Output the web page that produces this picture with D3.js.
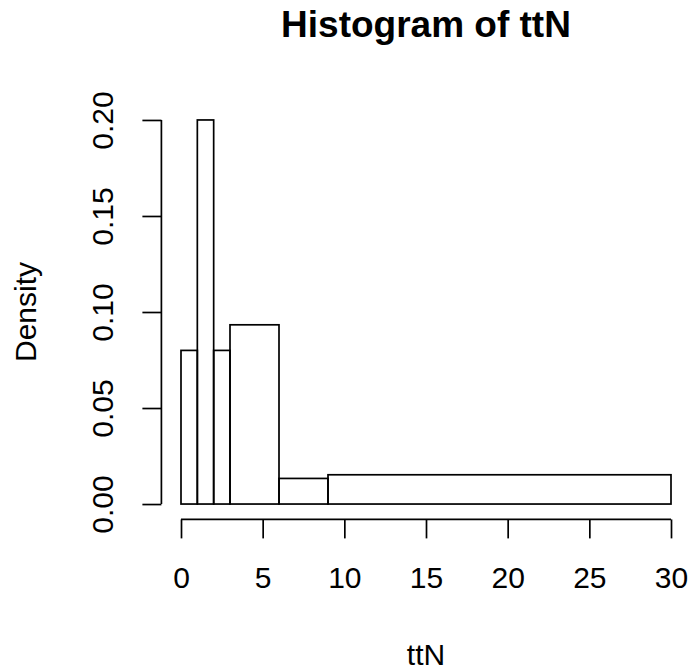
<!DOCTYPE html>
<html>
<head>
<meta charset="utf-8">
<script src="https://cdn.jsdelivr.net/npm/d3@7"></script>
<style>
  html, body { margin: 0; padding: 0; background: #fff; }
  svg { display: block; }
  text { font-family: "Liberation Sans", Arial, Helvetica, sans-serif; fill: #000; }
</style>
</head>
<body>
<script>
// ---- data ----
const binStarts = [0, 1, 2, 3, 6, 9];
const binEnds   = [1, 2, 3, 6, 9, 30];
const densities = [0.08, 0.20, 0.08, 0.09333, 0.01333, 0.01524];
const xTicks = [0, 5, 10, 15, 20, 25, 30];
const yTicks = [0, 0.05, 0.10, 0.15, 0.20];
const titleText = "Histogram of ttN";
const xLabel = "ttN";
const yLabel = "Density";

// ---- layout ----
const W = 691, H = 669;
const svg = d3.select("body").append("svg").attr("width", W).attr("height", H);

const x = d3.scaleLinear().domain([-1.2, 31.2]).range([161.4, 690.6]);
const y = d3.scaleLinear().domain([-0.008, 0.208]).range([519.4, 104.6]);

const axisFont = 30;
const lw = 1.7;

// bars
svg.append("g").selectAll("rect")
  .data(densities.map((d, i) => ({x0: binStarts[i], x1: binEnds[i], d})))
  .join("rect")
  .attr("x", b => x(b.x0))
  .attr("y", b => y(b.d))
  .attr("width", b => x(b.x1) - x(b.x0))
  .attr("height", b => y(0) - y(b.d))
  .attr("fill", "none")
  .attr("stroke", "#000")
  .attr("stroke-width", lw);

// x axis
const gx = svg.append("g")
  .attr("transform", `translate(0,${y.range()[0]})`)
  .call(d3.axisBottom(x).tickValues(xTicks).tickSize(19).tickPadding(28.3).tickFormat(d3.format("d")));
gx.select(".domain").remove();
gx.append("line")
  .attr("x1", x(xTicks[0])).attr("x2", x(xTicks[xTicks.length - 1]))
  .attr("y1", 0).attr("y2", 0)
  .attr("stroke", "#000").attr("stroke-width", lw);
gx.selectAll(".tick line").attr("stroke", "#000").attr("stroke-width", lw);
gx.selectAll(".tick text")
  .attr("font-size", axisFont)
  .attr("font-family", "Liberation Sans, Arial, sans-serif")
  .attr("fill", "#000");

// y axis
const gy = svg.append("g")
  .attr("transform", `translate(${x.range()[0]},0)`)
  .call(d3.axisLeft(y).tickValues(yTicks).tickSize(19).tickFormat(d3.format(".2f")));
gy.select(".domain").remove();
gy.append("line")
  .attr("x1", 0).attr("x2", 0)
  .attr("y1", y(yTicks[0])).attr("y2", y(yTicks[yTicks.length - 1]))
  .attr("stroke", "#000").attr("stroke-width", lw);
gy.selectAll(".tick line").attr("stroke", "#000").attr("stroke-width", lw);
gy.selectAll(".tick text")
  .attr("font-size", axisFont)
  .attr("font-family", "Liberation Sans, Arial, sans-serif")
  .attr("fill", "#000")
  .attr("x", null).attr("dy", null)
  .attr("text-anchor", "middle")
  .attr("transform", `translate(${113.3 - x.range()[0]},0) rotate(-90)`);

// title
svg.append("text")
  .attr("x", (x.range()[0] + x.range()[1]) / 2)
  .attr("y", 37.3)
  .attr("text-anchor", "middle")
  .attr("font-size", 37)
  .attr("font-weight", "bold")
  .text(titleText);

// x label
svg.append("text")
  .attr("x", (x.range()[0] + x.range()[1]) / 2)
  .attr("y", 664.5)
  .attr("text-anchor", "middle")
  .attr("font-size", axisFont)
  .text(xLabel);

// y label
svg.append("text")
  .attr("transform", `translate(36,${(y.range()[0] + y.range()[1]) / 2}) rotate(-90)`)
  .attr("text-anchor", "middle")
  .attr("font-size", axisFont)
  .text(yLabel);
</script>
</body>
</html>
